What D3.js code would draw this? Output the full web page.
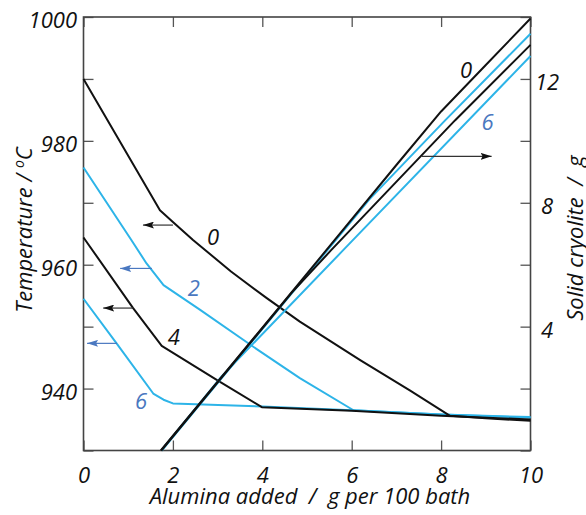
<!DOCTYPE html>
<html lang="en">
<head>
<meta charset="utf-8">
<title>Liquidus and solid cryolite vs alumina added</title>
<script src="https://d3js.org/d3.v7.min.js"></script>
<style>
  body { margin: 0; background: #fff; }
  svg text { font-family: "Open Sans", "DejaVu Sans", sans-serif; font-style: italic; white-space: pre; }
</style>
</head>
<body>
<div id="chart"></div>
<script>
// liquidus temperature (left axis), [alumina added, temperature]
var liq0 = [[0, 990], [1.71, 968.8], [2.0, 966.9], [2.45, 964.0], [3.3, 958.9], [4.10, 954.6], [4.84, 950.8], [6.19, 944.6], [7.3, 939.7], [8.2, 935.6], [9, 935.2], [10, 934.8]];
var liq2 = [[0, 975.7], [1.07, 964.0], [1.41, 960.2], [1.79, 956.7], [2.61, 952.7], [3.95, 946.0], [4.84, 941.7], [6.04, 936.5], [8, 935.8], [10, 935.4]];
var liq4 = [[0, 964.4], [1.11, 953.0], [1.75, 946.9], [2.98, 941.4], [3.99, 937.0], [6, 936.4], [8, 935.6], [10, 935.0]];
var liq6 = [[0, 954.5], [0.74, 947.3], [1.56, 939.2], [1.79, 938.2], [2.0, 937.6], [4, 937.1], [6, 936.5], [8, 935.8], [10, 935.3]];

// solid cryolite (right axis), [alumina added, grams]
var cry0 = [[1.73, 0], [4.4, 4.66], [7.0, 9.22], [8.0, 10.95], [9.0, 12.45], [10, 13.95]];
var cry2 = [[1.75, 0], [4.4, 4.62], [6.4, 8.12], [8.09, 10.66], [10, 13.46]];
var cry4 = [[1.74, 0], [4.66, 5.10], [5.54, 6.47], [8.31, 10.66], [10, 13.10]];
var cry6 = [[1.74, 0], [3.10, 2.41], [5.81, 6.47], [10, 12.74]];

var xTicks = [0, 2, 4, 6, 8, 10];
var tTicks = [930, 940, 950, 960, 970, 980, 990, 1000];
var tLabels = [940, 960, 980, 1000];
var sTicks = [0, 2, 4, 6, 8, 10, 12, 14];
var sLabels = [4, 8, 12];

var black = "#111", cyan = "#2db4e8", blue = "#4a78c0";

var width = 586, height = 515;
var L = 83.5, R = 530.5, T = 17, B = 450.5;
var fs = 22;

var svg = d3.select("#chart").append("svg")
    .attr("width", width)
    .attr("height", height);

var x = d3.scaleLinear().domain([0, 10]).range([L, R]);
var yT = d3.scaleLinear().domain([930, 1000]).range([B, T]);
var yS = d3.scaleLinear().domain([0, 14]).range([B, T]);

// axes, ticks point inward
var gx = svg.append("g").attr("transform", "translate(0," + B + ")")
    .call(d3.axisBottom(x).tickValues(xTicks).tickSize(-10).tickPadding(17).tickFormat(d3.format("d")));
svg.append("g").attr("transform", "translate(0," + T + ")")
    .call(d3.axisTop(x).tickValues(xTicks).tickSize(-10).tickFormat(""));
var gl = svg.append("g").attr("transform", "translate(" + L + ",0)")
    .call(d3.axisLeft(yT).tickValues(tTicks).tickSize(-10).tickPadding(6.5)
      .tickFormat(function(d){ return tLabels.indexOf(d) >= 0 ? d : ""; }));
var gr = svg.append("g").attr("transform", "translate(" + R + ",0)")
    .call(d3.axisRight(yS).tickValues(sTicks).tickSize(-10).tickPadding(16.5)
      .tickFormat(function(d){ return sLabels.indexOf(d) >= 0 ? d : ""; }));

svg.selectAll(".domain").remove();
svg.selectAll(".tick line").attr("stroke", "#555").attr("stroke-width", 1.3);
svg.selectAll(".tick text").attr("font-size", fs).attr("fill", "#111")
    .style("font-family", "'Open Sans', sans-serif").style("font-style", "italic");
gl.selectAll(".tick text").attr("dy", "0.48em");
gr.selectAll(".tick text").attr("dy", "0.48em").attr("text-anchor", "middle");

// frame
svg.append("rect")
    .attr("x", L).attr("y", T)
    .attr("width", R - L).attr("height", B - T)
    .attr("fill", "none").attr("stroke", "#444").attr("stroke-width", 1.6);

var lineT = d3.line().x(function(d){ return x(d[0]); }).y(function(d){ return yT(d[1]); });
var lineS = d3.line().x(function(d){ return x(d[0]); }).y(function(d){ return yS(d[1]); });

var plot = svg.append("g");
[[liq6, cyan], [liq2, cyan], [liq4, black], [liq0, black]].forEach(function(s){
  plot.append("path").datum(s[0]).attr("d", lineT)
    .attr("fill", "none").attr("stroke", s[1]).attr("stroke-width", 2).attr("stroke-linejoin", "round");
});
[[cry6, cyan], [cry2, cyan], [cry4, black], [cry0, black]].forEach(function(s){
  plot.append("path").datum(s[0]).attr("d", lineS)
    .attr("fill", "none").attr("stroke", s[1]).attr("stroke-width", 2).attr("stroke-linejoin", "round");
});

// arrows
var defs = svg.append("defs");
[["arrBlack", black], ["arrBlue", blue]].forEach(function(a){
  defs.append("marker").attr("id", a[0])
    .attr("viewBox", "0 0 11 7").attr("refX", 11).attr("refY", 3.5)
    .attr("markerWidth", 11).attr("markerHeight", 7).attr("markerUnits", "userSpaceOnUse")
    .attr("orient", "auto")
    .append("path").attr("d", "M0,0L11,3.5L0,7L2,3.5Z").attr("fill", a[1]);
});

// [x from, x to, value, color, axis]
var arrows = [
  [2.0, 1.33, 966.4, black, yT],
  [1.53, 0.82, 959.4, blue, yT],
  [1.11, 0.44, 953.0, black, yT],
  [0.75, 0.08, 947.3, blue, yT],
  [7.57, 9.13, 9.5, black, yS]
];
arrows.forEach(function(a){
  svg.append("line")
    .attr("x1", x(a[0])).attr("x2", x(a[1]))
    .attr("y1", a[4](a[2])).attr("y2", a[4](a[2]))
    .attr("stroke", a[3] === black ? "#333" : blue).attr("stroke-width", 1.2)
    .attr("marker-end", a[3] === black ? "url(#arrBlack)" : "url(#arrBlue)");
});

// curve labels
var labels = [
  ["0", 2.90, 964.5, black, yT],
  ["2", 2.47, 956.2, blue, yT],
  ["4", 2.02, 948.3, black, yT],
  ["6", 1.29, 937.9, blue, yT],
  ["0", 8.56, 12.27, black, yS],
  ["6", 9.04, 10.6, blue, yS]
];
labels.forEach(function(l){
  svg.append("text")
    .attr("x", x(l[1])).attr("y", l[4](l[2]))
    .attr("dy", "0.36em").attr("text-anchor", "middle")
    .attr("font-size", fs).attr("fill", l[3])
    .text(l[0]);
});

// axis titles
svg.append("text")
    .attr("x", (L + R) / 2 + 3).attr("y", 504)
    .attr("text-anchor", "middle").attr("font-size", fs).attr("fill", "#111")
    .text("Alumina added  /  g per 100 bath");

var yt = svg.append("text")
    .attr("transform", "translate(32,230) rotate(-90)")
    .attr("text-anchor", "middle").attr("font-size", fs).attr("fill", "#111");
yt.append("tspan").text("Temperature / ");
yt.append("tspan").attr("font-size", 14).attr("dy", -8).text("o");
yt.append("tspan").attr("dy", 8).text("C");

svg.append("text")
    .attr("transform", "translate(583,238) rotate(-90)")
    .attr("text-anchor", "middle").attr("font-size", fs).attr("fill", "#111")
    .text("Solid cryolite  /  g");
</script>
</body>
</html>
